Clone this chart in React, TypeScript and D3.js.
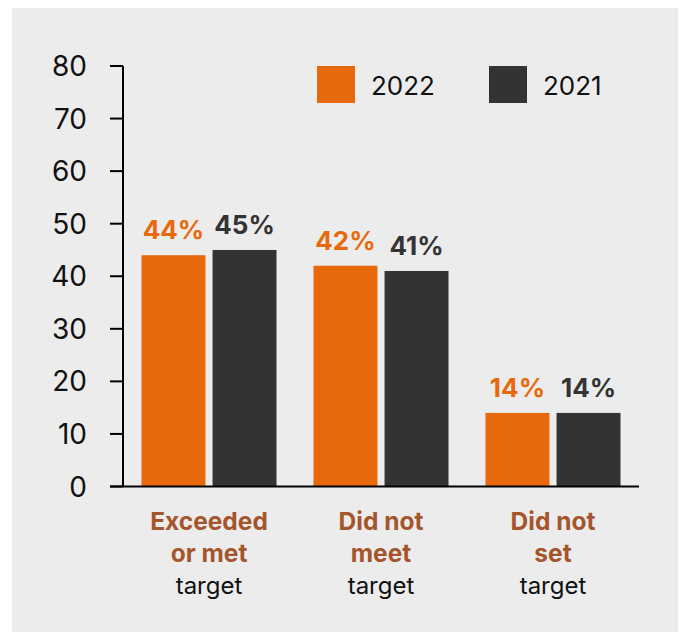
import React from "react";
import * as d3 from "d3";

const categories = [
  ["Exceeded", "or met", "target"],
  ["Did not", "meet", "target"],
  ["Did not", "set", "target"],
];
const categoryKeys = ["exceeded", "notmeet", "notset"];
const seriesNames = ["2022", "2021"];
const values2022 = [44, 42, 14];
const values2021 = [45, 41, 14];
const yTicks = [0, 10, 20, 30, 40, 50, 60, 70, 80];

const W = 682;
const H = 632;
const ORANGE = "#e8690b";
const DARK = "#333333";
const BROWN = "#a4552b";
const FONT = "Inter, 'Noto Sans', sans-serif";

export default function App() {
  const x0 = d3
    .scaleBand<string>()
    .domain(categoryKeys)
    .range([123, 639])
    .paddingInner(0.215)
    .paddingOuter(0.1075);
  const x1 = d3
    .scaleBand<string>()
    .domain(seriesNames)
    .range([0, x0.bandwidth()])
    .paddingInner(0.1)
    .paddingOuter(0);
  const y = d3.scaleLinear().domain([0, 80]).range([486.5, 66]);

  const series = [
    { name: "2022", values: values2022, color: ORANGE },
    { name: "2021", values: values2021, color: DARK },
  ];

  return (
    <svg
      width={W}
      height={H}
      style={{ position: "absolute", left: 0, top: 0 }}
      fontFamily={FONT}
    >
      <rect x={12} y={8} width={666} height={624} fill="#ececec" />
      {/* y axis */}
      <line x1={123} x2={123} y1={y(80)} y2={y(0)} stroke="#000" strokeWidth={2} />
      {yTicks.map((t) => (
        <g key={t}>
          <line x1={110} x2={123} y1={y(t)} y2={y(t)} stroke="#000" strokeWidth={2} />
          <text
            x={87}
            y={y(t)}
            dy="0.36em"
            textAnchor="end"
            fontSize={28}
            fill="#111"
          >
            {t}
          </text>
        </g>
      ))}
      {/* bars */}
      {categoryKeys.map((c, i) => (
        <g key={c} transform={`translate(${x0(c)},0)`}>
          {series.map((s) => (
            <g key={s.name}>
              <rect
                x={x1(s.name)}
                y={y(s.values[i])}
                width={x1.bandwidth()}
                height={y(0) - y(s.values[i])}
                fill={s.color}
              />
              <text
                x={(x1(s.name) as number) + x1.bandwidth() / 2}
                y={y(s.values[i]) - 16}
                textAnchor="middle"
                fontSize={26}
                fontWeight={700}
                fill={s.color}
              >
                {s.values[i]}%
              </text>
            </g>
          ))}
          {categories[i].map((line, j) => (
            <text
              key={j}
              x={x0.bandwidth() / 2}
              y={530 + j * 32}
              textAnchor="middle"
              fontSize={j < 2 ? 24.5 : 24}
              fontWeight={j < 2 ? 700 : 400}
              fill={j < 2 ? BROWN : "#111"}
            >
              {line}
            </text>
          ))}
        </g>
      ))}
      {/* x axis */}
      <line x1={110} x2={639} y1={y(0)} y2={y(0)} stroke="#000" strokeWidth={2} />
      {/* legend */}
      {series.map((s, i) => (
        <g key={s.name} transform={`translate(${317 + i * 172},66)`}>
          <rect x={0} y={0} width={38} height={37} fill={s.color} />
          <text x={54} y={29} fontSize={26} fill="#111">
            {s.name}
          </text>
        </g>
      ))}
    </svg>
  );
}
